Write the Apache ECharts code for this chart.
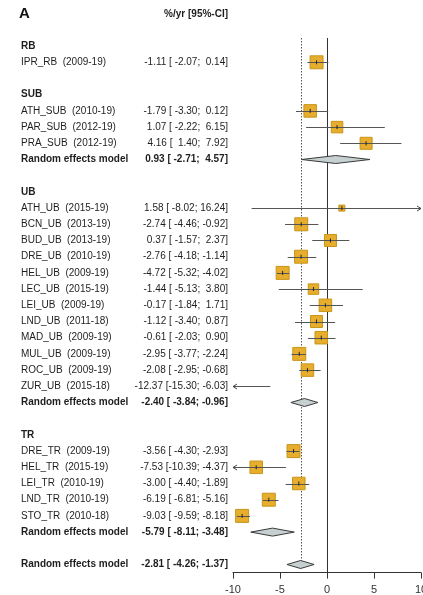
<!DOCTYPE html>
<html>
<head>
<meta charset="utf-8">
<script src="https://cdn.jsdelivr.net/npm/echarts@6/dist/echarts.min.js"></script>
<style>html,body{margin:0;padding:0;background:#fff;}#c{width:423px;height:595px;}</style>
</head>
<body>
<div id="c"></div>
<script>
const groupNames = ["RB", "SUB", "UB", "TR"];
const studyLabels = ["IPR_RB  (2009-19)", "ATH_SUB  (2010-19)", "PAR_SUB  (2012-19)", "PRA_SUB  (2012-19)",
  "ATH_UB  (2015-19)", "BCN_UB  (2013-19)", "BUD_UB  (2013-19)", "DRE_UB  (2010-19)", "HEL_UB  (2009-19)",
  "LEC_UB  (2015-19)", "LEI_UB  (2009-19)", "LND_UB  (2011-18)", "MAD_UB  (2009-19)", "MUL_UB  (2009-19)",
  "ROC_UB  (2009-19)", "ZUR_UB  (2015-18)",
  "DRE_TR  (2009-19)", "HEL_TR  (2015-19)", "LEI_TR  (2010-19)", "LND_TR  (2010-19)", "STO_TR  (2010-18)"];
const studyGroup = [0, 1, 1, 1, 2, 2, 2, 2, 2, 2, 2, 2, 2, 2, 2, 2, 3, 3, 3, 3, 3];
const studyEst = [-1.11, -1.79, 1.07, 4.16, 1.58, -2.74, 0.37, -2.76, -4.72, -1.44, -0.17, -1.12, -0.61, -2.95, -2.08, -12.37, -3.56, -7.53, -3.00, -6.19, -9.03];
const studyLo = [-2.07, -3.30, -2.22, 1.40, -8.02, -4.46, -1.57, -4.18, -5.32, -5.13, -1.84, -3.40, -2.03, -3.77, -2.95, -15.30, -4.30, -10.39, -4.40, -6.81, -9.59];
const studyHi = [0.14, 0.12, 6.15, 7.92, 16.24, -0.92, 2.37, -1.14, -4.02, 3.80, 1.71, 0.87, 0.90, -2.24, -0.68, -6.03, -2.93, -4.37, -1.89, -5.16, -8.18];
const studyWeight = [13.0, 12.1, 10.2, 11.1, 2.8, 13.0, 11.1, 13.0, 13.0, 8.5, 12.1, 11.1, 12.1, 13.0, 12.1, 4.9, 13.0, 12.1, 12.1, 13.0, 13.0];
const modelLabel = "Random effects model";
const modelEst = [null, 0.93, -2.40, -5.79];
const modelLo = [null, -2.71, -3.84, -8.11];
const modelHi = [null, 4.57, -0.96, -3.48];
const overallEst = -2.81, overallLo = -4.26, overallHi = -1.37;
const xTicks = [-10, -5, 0, 5, 10];
const headerText = "%/yr [95%-CI]";
const panelLetter = "A";

function fmt(v, w) { return v.toFixed(2).padStart(w, ' '); }
function ciText(e, l, h) { return e.toFixed(2) + " [" + fmt(l, 6) + "; " + fmt(h, 5) + "]"; }

// build rows
const textRows = [];   // {row, label, value, bold}
const studyRows = [];  // [est, row, lo, hi, weight]
const diamondRows = []; // [est, row, lo, hi]
let r = 0;
groupNames.forEach((g, gi) => {
  textRows.push({row: r, label: g, value: "", bold: true});
  r++;
  studyLabels.forEach((s, si) => {
    if (studyGroup[si] !== gi) return;
    textRows.push({row: r, label: s, value: ciText(studyEst[si], studyLo[si], studyHi[si]), bold: false});
    studyRows.push([studyEst[si], r, studyLo[si], studyHi[si], studyWeight[si]]);
    r++;
  });
  if (modelEst[gi] !== null) {
    textRows.push({row: r, label: modelLabel, value: ciText(modelEst[gi], modelLo[gi], modelHi[gi]), bold: true});
    diamondRows.push([modelEst[gi], r, modelLo[gi], modelHi[gi]]);
    r++;
  }
  r++;
});
textRows.push({row: r, label: modelLabel, value: ciText(overallEst, overallLo, overallHi), bold: true});
diamondRows.push([overallEst, r, overallLo, overallHi]);
const lastRow = r;

const XMIN = -10, XMAX = 10;
const FONT = '"Liberation Sans", Arial, sans-serif';
const TXT = '#1e1e1e';

const chart = echarts.init(document.getElementById('c'), null, {renderer: 'canvas'});
chart.setOption({
  animation: false,
  backgroundColor: '#fff',
  grid: {left: 233, width: 188, top: 38, height: 534.6, outerBoundsMode: 'none', containLabel: false},
  xAxis: {
    type: 'value', min: XMIN, max: XMAX, interval: 5,
    axisLine: {show: true, onZero: false, lineStyle: {color: '#333', width: 1}},
    axisTick: {show: true, length: 6, lineStyle: {color: '#333'}},
    axisLabel: {color: '#333', fontSize: 11, fontFamily: FONT, margin: 12, hideOverlap: false,
      showMinLabel: true, showMaxLabel: true,
      formatter: v => xTicks.includes(v) ? String(v) : ''},
    splitLine: {show: false}
  },
  yAxis: {type: 'value', inverse: true, min: -0.5, max: lastRow + 0.5, show: false},
  graphic: [
    {type: 'text', left: 19, top: 6, style: {text: panelLetter, font: 'bold 15px ' + FONT, fill: '#111'}},
    {type: 'text', x: 228, y: 14, style: {text: headerText, font: 'bold 10px ' + FONT, fill: TXT, textAlign: 'right', textVerticalAlign: 'middle'}}
  ],
  series: [
    { // reference lines
      type: 'custom', clip: false, z: 1,
      data: [[0, 0], [overallEst, 1]],
      renderItem: (params, api) => {
        const x = api.value(0);
        const dotted = api.value(1) === 1;
        const p1 = api.coord([x, -0.5]);
        const p2 = api.coord([x, dotted ? lastRow : lastRow + 0.5]);
        return {type: 'line', shape: {x1: Math.round(p1[0]) + 0.5, y1: p1[1], x2: Math.round(p2[0]) + 0.5, y2: p2[1]},
          style: {stroke: dotted ? '#555' : '#333', lineWidth: 1, lineDash: dotted ? [1.5, 1.5] : null}};
      }
    },
    { // studies
      type: 'custom', clip: false, z: 3,
      data: studyRows,
      renderItem: (params, api) => {
        const est = api.value(0), row = api.value(1), lo = api.value(2), hi = api.value(3), w = api.value(4);
        const children = [];
        const c = api.coord([est, row]);
        const y = Math.round(c[1]) + 0.5;
        const pl = api.coord([Math.max(lo, XMIN), row])[0];
        const ph = api.coord([Math.min(hi, XMAX), row])[0];
        const inRange = est >= XMIN && est <= XMAX;
        if (inRange) {
          const s = 3.6 * Math.sqrt(w);
          children.push({type: 'rect', shape: {x: c[0] - s / 2, y: c[1] - s / 2, width: s, height: s},
            style: {fill: '#E6AE2C', stroke: '#C99419', lineWidth: 1}});
        }
        children.push({type: 'line', shape: {x1: pl, y1: y, x2: ph, y2: y}, style: {stroke: '#555', lineWidth: 1}});
        if (inRange) {
          children.push({type: 'line', shape: {x1: c[0], y1: c[1] - 2, x2: c[0], y2: c[1] + 2}, style: {stroke: '#222', lineWidth: 1}});
        }
        if (lo < XMIN) {
          children.push({type: 'polyline', shape: {points: [[pl + 4, y - 2.5], [pl, y], [pl + 4, y + 2.5]]}, style: {stroke: '#444', lineWidth: 1, fill: null}});
        }
        if (hi > XMAX) {
          children.push({type: 'polyline', shape: {points: [[ph - 4, y - 2.5], [ph, y], [ph - 4, y + 2.5]]}, style: {stroke: '#444', lineWidth: 1, fill: null}});
        }
        return {type: 'group', children: children};
      }
    },
    { // diamonds
      type: 'custom', clip: false, z: 3,
      data: diamondRows,
      renderItem: (params, api) => {
        const est = api.value(0), row = api.value(1), lo = api.value(2), hi = api.value(3);
        const c = api.coord([est, row]);
        const pl = api.coord([lo, row])[0], ph = api.coord([hi, row])[0];
        const h = 4;
        return {type: 'polygon', shape: {points: [[pl, c[1]], [c[0], c[1] - h], [ph, c[1]], [c[0], c[1] + h]]},
          style: {fill: '#C6D0D0', stroke: '#3a3a3a', lineWidth: 1}};
      }
    },
    { // text columns
      type: 'custom', clip: false, z: 4,
      data: textRows.map(t => [0, t.row]),
      renderItem: (params, api) => {
        const t = textRows[params.dataIndex];
        const y = api.coord([0, t.row])[1];
        const font = (t.bold ? 'bold ' : '') + '10px ' + FONT;
        const ch = [{type: 'text', x: 21, y: y, style: {text: t.label, font: font, fill: TXT, textVerticalAlign: 'middle', textAlign: 'left'}}];
        if (t.value) ch.push({type: 'text', x: 228, y: y, style: {text: t.value, font: font, fill: TXT, textVerticalAlign: 'middle', textAlign: 'right'}});
        return {type: 'group', children: ch};
      }
    }
  ]
});
</script>
</body>
</html>
